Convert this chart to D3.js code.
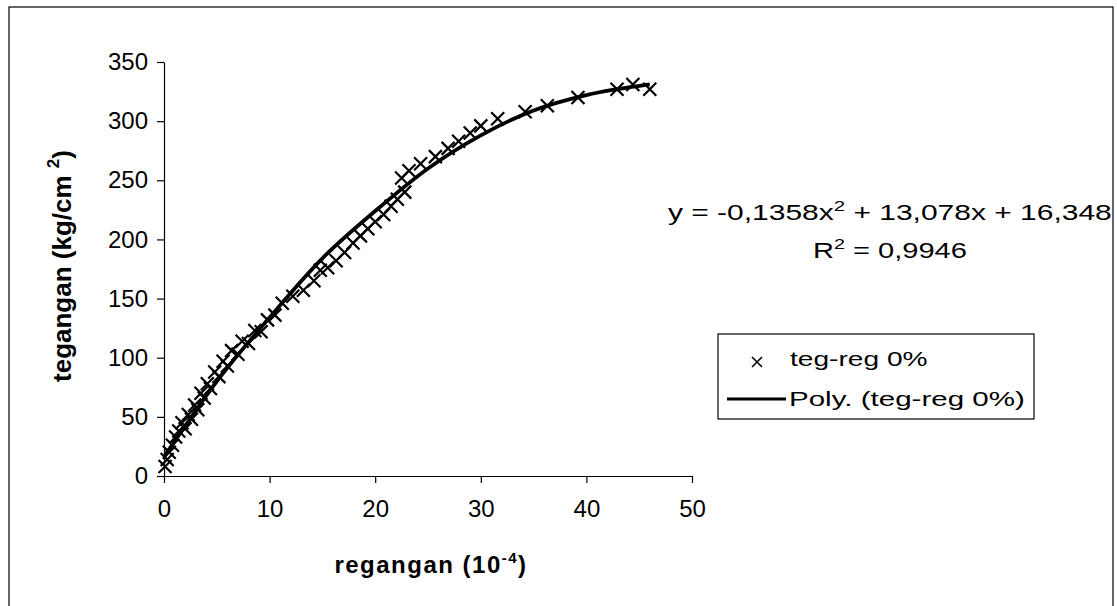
<!DOCTYPE html>
<html>
<head>
<meta charset="utf-8">
<script src="https://cdn.jsdelivr.net/npm/d3@7"></script>
<style>
    body { margin: 0; background: #fff; }
    text { font-family: "Liberation Sans", Arial, sans-serif; fill: #000; }
    .axis path, .axis line { stroke: #000; stroke-width: 1.2; }
    .axis text { font-size: 24px; }
</style>
</head>
<body>
<div id="chart"></div>
<script>
// measured points (regangan 10^-4, tegangan kg/cm2)
var strain = [0.1, 0.3, 0.5, 0.8, 1.1, 1.4, 1.7, 2.0, 2.3, 2.6, 2.9, 3.2, 3.5, 3.8, 4.1, 4.4,
    4.8, 5.2, 5.6, 6.0, 6.4, 7.0, 7.4, 8.0, 8.6, 9.2, 9.8, 10.5, 11.2, 12.2, 13.2, 14.2,
    14.8, 15.5, 16.3, 17.1, 17.9, 18.6, 19.3, 20.0, 20.8, 21.5, 22.1, 22.8, 22.5, 23.2,
    24.3, 25.7, 26.9, 27.9, 29.0, 30.0, 31.6, 34.2, 36.3, 39.2, 42.9, 44.4, 46.0];
var stress = [8, 14, 20, 26, 33, 38, 45, 40, 52, 48, 60, 56, 70, 66, 78, 74,
    88, 84, 97, 93, 106, 103, 114, 112, 123, 122, 132, 136, 146, 152, 157, 165,
    174, 176, 182, 189, 197, 203, 209, 215, 221, 228, 234, 240, 252, 258,
    264, 270, 277, 283, 290, 296, 302, 308, 313, 320, 327, 331, 327];

// trendline
var trendX = [0, 5, 10, 15, 20, 25, 30, 35, 40, 46];
var trendY = [16, 80, 134, 184, 224, 260, 288, 309, 322, 331];

var xTicks = [0, 10, 20, 30, 40, 50];
var yTicks = [0, 50, 100, 150, 200, 250, 300, 350];

// stretch a text horizontally so it fills the width seen in the picture
function fitWidth(sel, target, ax) {
    var w0 = sel.node().getBBox().width;
    var sx = target / w0;
    sel.attr("transform", "translate(" + ax + ",0) scale(" + sx + ",1) translate(" + (-ax) + ",0)");
}

function init() {
    var w = 1117;
    var h = 606;

    var points = strain.map(function(d, i) { return { x: d, y: stress[i] }; });
    var trend = trendX.map(function(d, i) { return { x: d, y: trendY[i] }; });

    var xScale = d3.scaleLinear().domain([0, 50]).range([164, 692]);
    var yScale = d3.scaleLinear().domain([0, 350]).range([476, 62]);

    var svg = d3.select("#chart")
        .append("svg")
        .attr("width", w)
        .attr("height", h);

    // outer frame
    svg.append("rect")
        .attr("x", 9)
        .attr("y", 7)
        .attr("width", 1104)
        .attr("height", 620)
        .attr("fill", "none")
        .attr("stroke", "#000")
        .attr("stroke-width", 1.2);

    // axes
    svg.append("g")
        .attr("class", "axis")
        .attr("transform", "translate(0," + yScale(0) + ")")
        .call(d3.axisBottom(xScale).tickValues(xTicks).tickSize(7).tickSizeOuter(0).tickPadding(17));

    svg.append("g")
        .attr("class", "axis")
        .attr("transform", "translate(" + xScale(0) + ",0)")
        .call(d3.axisLeft(yScale).tickValues(yTicks).tickSize(7).tickSizeOuter(0).tickPadding(9));

    // trendline
    var line = d3.line()
        .x(function(d) { return xScale(d.x); })
        .y(function(d) { return yScale(d.y); })
        .curve(d3.curveMonotoneX);

    svg.append("path")
        .datum(trend)
        .attr("d", line)
        .attr("fill", "none")
        .attr("stroke", "#000")
        .attr("stroke-width", 3.8);

    // x markers
    var s = 6.5;
    var marks = svg.append("g").attr("stroke", "#000").attr("stroke-width", 2.2);
    marks.selectAll("path")
        .data(points)
        .enter()
        .append("path")
        .attr("d", function(d) {
            var cx = xScale(d.x), cy = yScale(d.y);
            return "M" + (cx - s) + "," + (cy - s) + "L" + (cx + s) + "," + (cy + s) +
                "M" + (cx - s) + "," + (cy + s) + "L" + (cx + s) + "," + (cy - s);
        });

    // axis titles
    var xt = svg.append("text")
        .attr("x", 431)
        .attr("y", 573)
        .attr("text-anchor", "middle")
        .attr("font-size", "24px")
        .attr("font-weight", "bold")
        .attr("letter-spacing", "1.5px");
    xt.append("tspan").text("regangan (10");
    xt.append("tspan").attr("dy", -10).attr("font-size", "15px").text("-4");
    xt.append("tspan").attr("dy", 10).text(")");

    var yt = svg.append("text")
        .attr("transform", "translate(71,266) rotate(-90)")
        .attr("text-anchor", "middle")
        .attr("font-size", "26px")
        .attr("font-weight", "bold");
    yt.append("tspan").text("tegangan (kg/cm ");
    yt.append("tspan").attr("dy", -12).attr("font-size", "17px").text("2");
    yt.append("tspan").attr("dy", 12).text(")");

    // equation
    var eq = svg.append("text")
        .attr("x", 668)
        .attr("y", 220)
        .attr("font-size", "22px");
    eq.append("tspan").text("y = -0,1358x");
    eq.append("tspan").attr("dy", -9).attr("font-size", "15px").text("2");
    eq.append("tspan").attr("dy", 9).text(" + 13,078x + 16,348");
    fitWidth(eq, 444, 668);

    var r2 = svg.append("text")
        .attr("x", 813)
        .attr("y", 258)
        .attr("font-size", "22px");
    r2.append("tspan").text("R");
    r2.append("tspan").attr("dy", -9).attr("font-size", "15px").text("2");
    r2.append("tspan").attr("dy", 9).text(" = 0,9946");
    fitWidth(r2, 154, 813);

    // legend
    var lg = svg.append("g");
    lg.append("rect")
        .attr("x", 718)
        .attr("y", 334)
        .attr("width", 316)
        .attr("height", 85)
        .attr("fill", "#fff")
        .attr("stroke", "#000")
        .attr("stroke-width", 1.2);

    var ls = 5;
    lg.append("path")
        .attr("d", "M" + (757 - ls) + "," + (362 - ls) + "L" + (757 + ls) + "," + (362 + ls) +
            "M" + (757 - ls) + "," + (362 + ls) + "L" + (757 + ls) + "," + (362 - ls))
        .attr("stroke", "#000")
        .attr("stroke-width", 1.6);
    var l1 = lg.append("text")
        .attr("x", 790)
        .attr("y", 366)
        .attr("font-size", "20px")
        .text("teg-reg 0%");
    fitWidth(l1, 138, 790);

    lg.append("line")
        .attr("x1", 727)
        .attr("x2", 786)
        .attr("y1", 399)
        .attr("y2", 399)
        .attr("stroke", "#000")
        .attr("stroke-width", 3);
    var l2 = lg.append("text")
        .attr("x", 789)
        .attr("y", 406)
        .attr("font-size", "20px")
        .text("Poly. (teg-reg 0%)");
    fitWidth(l2, 236, 789);
}
window.onload = init;
</script>
</body>
</html>
